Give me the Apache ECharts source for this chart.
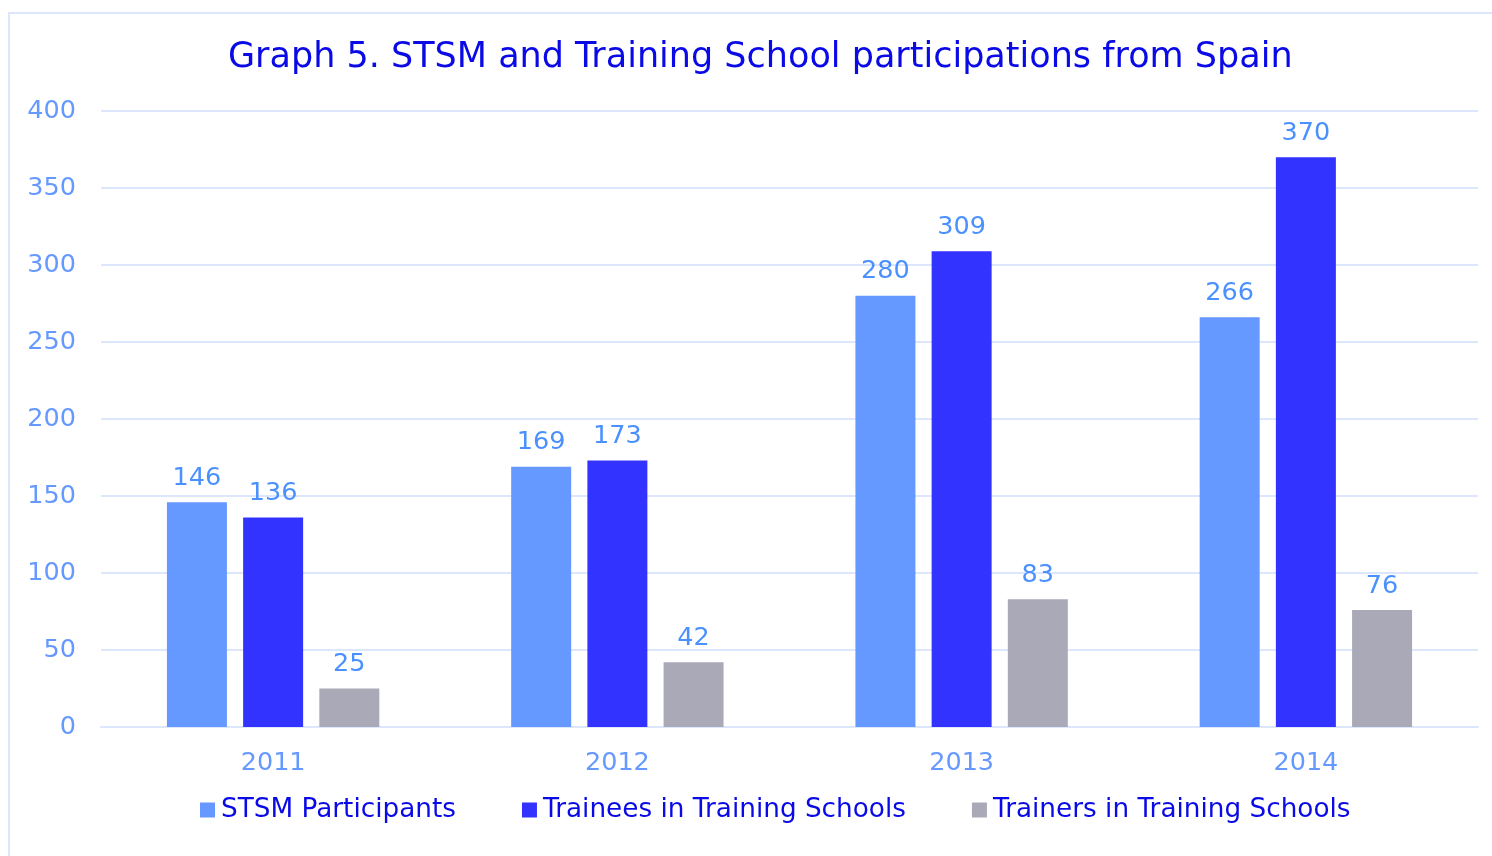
<!DOCTYPE html>
<html>
<head>
<meta charset="utf-8">
<script src="https://cdn.jsdelivr.net/npm/echarts@6/dist/echarts.min.js"></script>
<style>
html,body{margin:0;padding:0;background:#fff;}
#chart{width:1492px;height:856px;}
</style>
</head>
<body>
<div id="chart"></div>
<script>
const categories = ['2011', '2012', '2013', '2014'];
const seriesNames = ['STSM Participants', 'Trainees in Training Schools', 'Trainers in Training Schools'];
const stsmParticipants = [146, 169, 280, 266];
const trainees = [136, 173, 309, 370];
const trainers = [25, 42, 83, 76];
const yTicks = { min: 0, max: 400, interval: 50 };
const titleText = 'Graph 5. STSM and Training School participations from Spain';

const colors = ['#6699ff', '#3333ff', '#aaa9b8'];
const font = 'DejaVu Sans, Verdana, sans-serif';
const chart = echarts.init(document.getElementById('chart'), null, { renderer: 'canvas' });

function mkSeries(name, data, color) {
  return {
    name: name,
    type: 'bar',
    data: data,
    barWidth: 60,
    barGap: '27%',
    itemStyle: { color: color },
    label: {
      show: true,
      position: 'top',
      distance: 11,
      color: '#4a90ff',
      fontFamily: font,
      fontSize: 25.5
    }
  };
}

chart.setOption({
  animation: false,
  backgroundColor: '#ffffff',
  color: colors,
  graphic: [{
    type: 'rect',
    shape: { x: 9, y: 13, width: 1600, height: 1000 },
    style: { fill: 'none', stroke: '#dce7fd', lineWidth: 2 },
    silent: true, z: -1
  }],
  title: {
    text: titleText,
    left: 223,
    top: 35,
    textStyle: { color: '#0a0ae6', fontFamily: font, fontSize: 35, fontWeight: 'normal' }
  },
  legend: {
    left: 200,
    top: 797,
    padding: 0,
    itemWidth: 15,
    itemHeight: 15,
    itemGap: 66,
    icon: 'rect',
    textStyle: { color: '#0a0ae6', fontFamily: font, fontSize: 26.3, padding: [0, 0, 0, 1] },
    data: seriesNames
  },
  grid: { left: 101, right: 14, top: 111, bottom: 129, containLabel: false },
  xAxis: {
    type: 'category',
    data: categories,
    axisLine: { lineStyle: { color: '#dce7fd', width: 2 } },
    axisTick: { show: false },
    axisLabel: { color: '#6699ff', fontFamily: font, fontSize: 25.5, margin: 23 }
  },
  yAxis: {
    type: 'value',
    min: yTicks.min,
    max: yTicks.max,
    interval: yTicks.interval,
    axisLine: { show: false },
    axisTick: { show: false },
    splitLine: { lineStyle: { color: '#dce7fd', width: 2 } },
    axisLabel: { color: '#6699ff', fontFamily: font, fontSize: 25.5, margin: 25 }
  },
  series: [
    mkSeries(seriesNames[0], stsmParticipants, colors[0]),
    mkSeries(seriesNames[1], trainees, colors[1]),
    mkSeries(seriesNames[2], trainers, colors[2])
  ]
});
</script>
</body>
</html>
